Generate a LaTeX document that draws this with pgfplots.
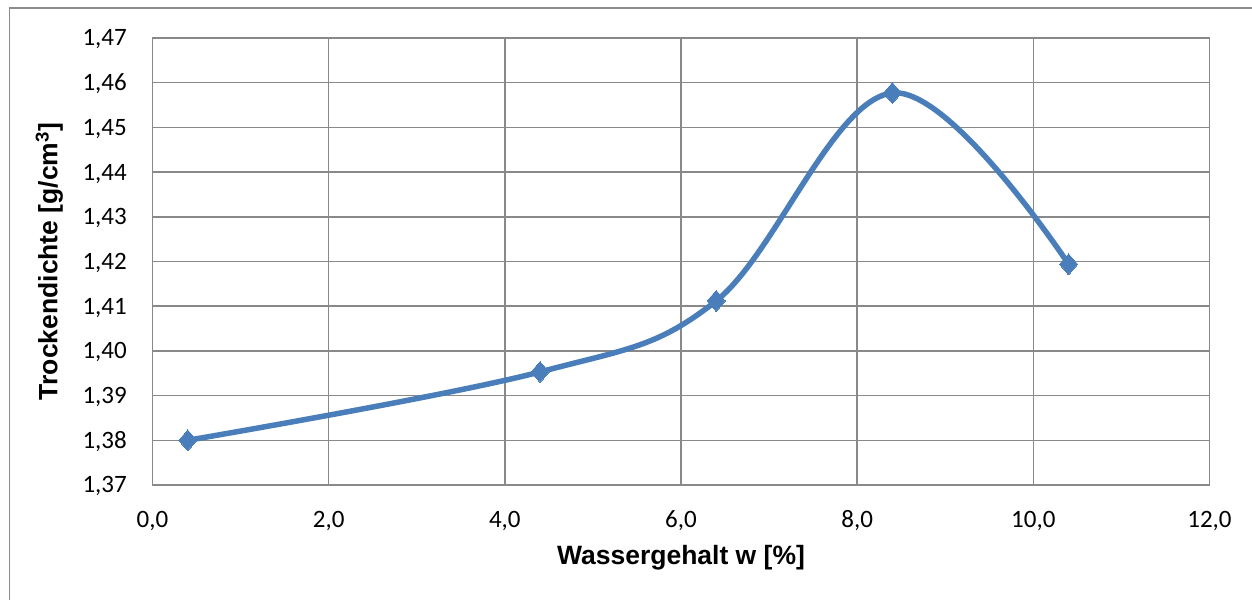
\documentclass[border=0pt]{standalone}
\usepackage{pgfplots}
\pgfplotsset{compat=1.18}
\usepackage{fontspec}
\setmainfont{Liberation Sans}
\newfontfamily\carlito{Carlito}
\definecolor{serie}{HTML}{4A7EBB}
\definecolor{gridc}{HTML}{898989}
\definecolor{framec}{HTML}{8C8C8C}
\begin{document}
\begin{tikzpicture}[x=1bp,y=1bp]
\useasboundingbox (0,0) rectangle (1252,600);
\draw[framec, line width=1.5bp] (9.5,-20) -- (9.5,592) -- (1270,592);
\begin{axis}[
  at={(152.5bp,115bp)}, anchor=south west,
  scale only axis, width=1057bp, height=447bp,
  xmin=0, xmax=12, ymin=1.37, ymax=1.47,
  xtick={0,2,...,12},
  ytick={1.37,1.38,1.39,1.40,1.41,1.42,1.43,1.44,1.45,1.46,1.47},
  grid=major,
  major grid style={gridc, line width=1.5bp},
  axis line style={gridc, line width=1.5bp},
  major tick length=0pt,
  tick style={draw=none},
  /pgf/number format/assume math mode=true,
  xticklabel style={/pgf/number format/fixed, /pgf/number format/fixed zerofill, /pgf/number format/precision=1, /pgf/number format/use comma, /pgf/number format/1000 sep={},
    anchor=base, yshift=-43bp},
  yticklabel style={/pgf/number format/fixed, /pgf/number format/fixed zerofill, /pgf/number format/precision=2, /pgf/number format/use comma, /pgf/number format/1000 sep={},
    anchor=base east, xshift=-25.5bp, yshift=-8bp},
  ticklabel style={font=\carlito\fontsize{25bp}{30bp}\selectfont, inner sep=0pt},
  xlabel={Wassergehalt w [\%]},
  ylabel={Trockendichte [g/cm\textsuperscript{3}]},
  label style={font=\bfseries\fontsize{26.5bp}{30bp}\selectfont, inner sep=0pt},
  xlabel style={at={(axis description cs:0.5,0)}, anchor=base, yshift=-80bp},
  ylabel style={at={(axis description cs:0,0.5)}, anchor=base, xshift=0bp, yshift=95bp},
]
\addplot[serie, line width=5.5bp, smooth, tension=0.6,
  mark=diamond*, mark size=10.5bp, mark options={fill=serie, draw=serie, line width=0pt, xscale=1.15}]
  coordinates {(0.4,1.3800) (4.4,1.3953) (6.4,1.4112) (8.4,1.4577) (10.4,1.4194)};
\end{axis}
\end{tikzpicture}
\end{document}
